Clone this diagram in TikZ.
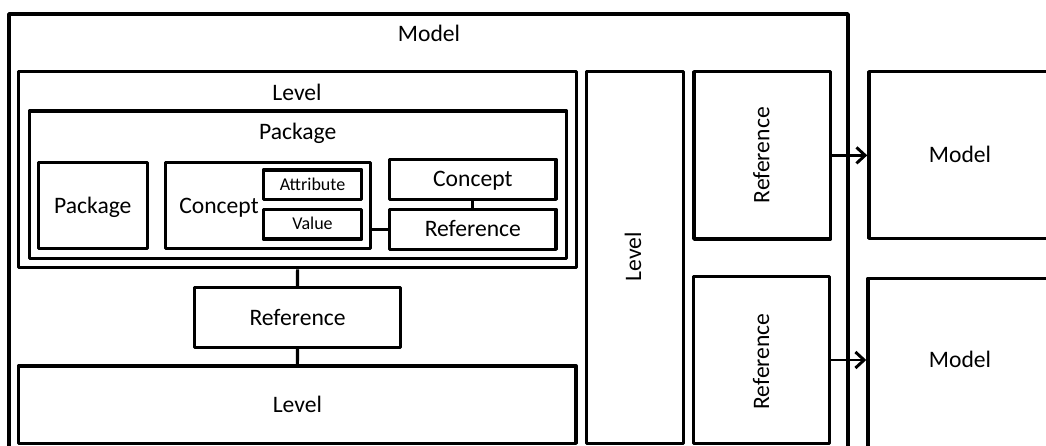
\documentclass[tikz,border=0pt]{standalone}
\usepackage{fontspec}
\setmainfont{Carlito}
\usetikzlibrary{fit,arrows.meta}
\begin{document}
\begin{tikzpicture}[x=0.75pt,y=-0.75pt,
  box/.style={draw=black, line width=2.6pt, inner sep=0pt, line join=round},
  lbl/.style={text=black, font=\fontsize{17.7}{20}\selectfont, inner sep=0pt, text height=11.4pt, text depth=0pt},
  small/.style={text=black, font=\fontsize{13.5}{15}\selectfont, inner sep=0pt, text height=8.7pt, text depth=0pt},
  link/.style={line width=2.4pt},
  arr/.style={line width=2.2pt, -{Straight Barb[length=6.5pt,width=12pt,line width=2.2pt]}}]
\useasboundingbox (0,0) rectangle (1046,446);
\clip (0,0) rectangle (1046,446);

% outer model
\node[box, fit={(9,14) (848,470)}] (model) {};
\node[lbl] (modelT) at (429,34) {Model};

% upper level with its package
\node[box, fit={(18.5,71.7) (576.7,267.7)}] (lvlA) {};
\node[lbl] (lvlAT) at (297,93) {Level};
\node[box, fit={(29.5,111) (566.4,258.3)}] (pkg) {};
\node[lbl] (pkgT) at (297.7,132) {Package};
\node[box, fit={(38.3,162.7) (147.3,248.3)}] (pkgIn) {};
\node[lbl] (pkgInT) at (pkgIn.center) {Package};
\node[box, fit={(165.3,162.7) (370.4,248.3)}] (conA) {};
\node[lbl] (conAT) at (219,205.5) {Concept};
\node[box, fit={(263.3,170) (361.7,199.3)}] (attr) {};
\node[small] (attrT) at (attr.center) {Attribute};
\node[box, fit={(263.3,209.3) (361.7,239)}] (val) {};
\node[small] (valT) at (val.center) {Value};
\node[box, fit={(389.6,159.3) (556,199.3)}] (conB) {};
\node[lbl] (conBT) at (conB.center) {Concept};
\node[box, fit={(389.6,209.3) (556,249.3)}] (refA) {};
\node[lbl] (refAT) at (refA.center) {Reference};
\draw[link] (conB.south) -- (refA.north);
\draw[link] (conA.east |- refA.west) -- (refA.west);

% reference between the two levels
\node[box, fit={(194.4,287.7) (400.7,347.3)}] (refB) {};
\node[lbl] (refBT) at (refB.center) {Reference};
\node[box, fit={(18.5,366) (576.2,443.3)}] (lvlB) {};
\node[lbl] (lvlBT) at (lvlB.center) {Level};
\draw[link] (lvlA.south) -- (refB.north);
\draw[link] (refB.south) -- (lvlB.north);

% vertical level and outgoing references
\node[box, fit={(586.5,71.7) (683.3,443.3)}] (lvlC) {};
\node[lbl, rotate=90] (lvlCT) at (633.5,256.7) {Level};
\node[box, fit={(694,71.7) (830.5,239)}] (refC) {};
\node[lbl, rotate=90] (refCT) at (761.7,155.3) {Reference};
\node[box, fit={(693.5,276.7) (829.5,443.3)}] (refD) {};
\node[lbl, rotate=90] (refDT) at (761.5,361.5) {Reference};

% referenced models
\node[box, fit={(869,71.7) (1070,238.3)}] (mA) {};
\node[lbl] (mAT) at (960,155) {Model};
\node[box, fit={(868,278.3) (1070,470)}] (mB) {};
\node[lbl] (mBT) at (960,360) {Model};
\draw[arr] (refC.east) -- (mA.west |- refC.east);
\draw[arr] (refD.east) -- (mB.west |- refD.east);
\end{tikzpicture}
\end{document}
